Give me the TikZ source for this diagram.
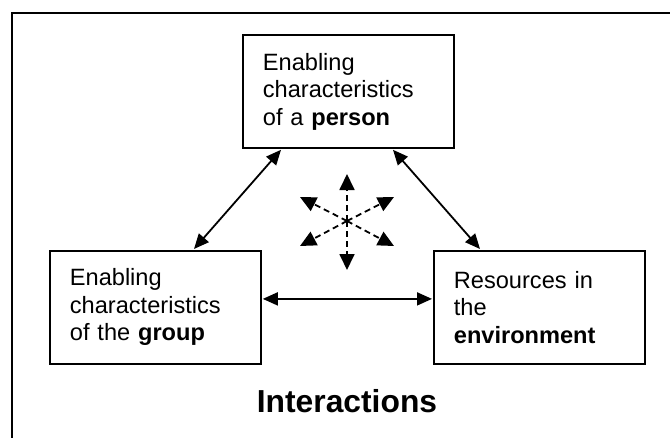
\documentclass[tikz,border=0pt]{standalone}
\usepackage{fontspec}
\setmainfont{Liberation Sans}
\usetikzlibrary{arrows.meta,calc}
\begin{document}
\begin{tikzpicture}[x=1pt,y=-1pt,
  box/.style={draw, line width=1.8pt, anchor=north west, minimum width=211pt, minimum height=113pt,
    inner xsep=20pt, inner ysep=0pt, text width=171pt, align=left,
    font=\fontsize{23.6}{27.5}\selectfont},
  biarrow/.style={line width=1.8pt, {Triangle[length=15pt,width=13pt]}-{Triangle[length=15pt,width=13pt]}},
  dasharrow/.style={line width=1.8pt, dash pattern=on 6pt off 4pt, -{Triangle[length=16pt,width=15pt]}},
  frame/.style={line width=1.8pt}]
\useasboundingbox (0,0) rectangle (670,437);
\draw[frame] (12,440) -- (12,13) -- (672,13);
\node[box] (top) at (242,34) {Enabling\\characteristics\\of a \textbf{person}};
\node[box] (left) at (49,250) {Enabling\\characteristics\\of the \textbf{group}};
\node[box] (right) at (433,250) {Resources in\\the\\\textbf{environment}};
\node[font=\fontsize{31.8}{36}\selectfont\bfseries, anchor=base] (title) at (347,412) {Interactions};
\draw[biarrow] ([xshift=39pt,yshift=-1pt]top.south west) -- ([xshift=145pt,yshift=1pt]left.north west);
\draw[biarrow] ([xshift=151pt,yshift=-1pt]top.south west) -- ([xshift=47pt,yshift=1pt]right.north west);
\draw[biarrow] ([yshift=8.5pt,xshift=1pt]left.east) -- ([yshift=8.5pt,xshift=-1pt]right.west);
\coordinate (c) at (347,221);
\coordinate (tu) at (347,174);
\coordinate (td) at (347,270);
\coordinate (tul) at (300,197);
\coordinate (tur) at (394,197);
\coordinate (tll) at (300,246);
\coordinate (tlr) at (394,246);
\foreach \t in {tu,td,tul,tur,tll,tlr}{\draw[dasharrow] (c) -- (\t);}
\end{tikzpicture}
\end{document}
